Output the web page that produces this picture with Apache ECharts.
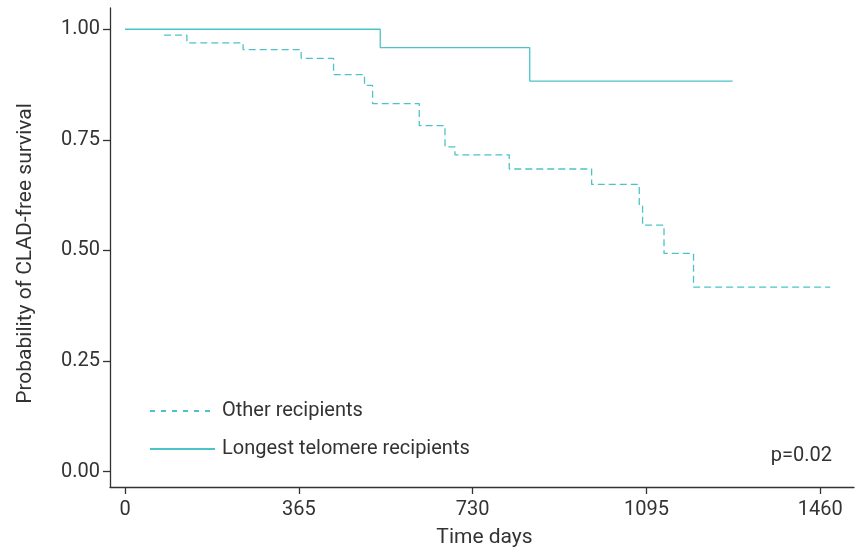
<!DOCTYPE html>
<html>
<head>
<meta charset="utf-8">
<script src="https://cdn.jsdelivr.net/npm/echarts@6/dist/echarts.min.js"></script>
<style>
html,body{margin:0;padding:0;background:#fff;}
#chart{width:860px;height:553px;}
</style>
</head>
<body>
<div id="chart"></div>
<script>
// Data
const seriesNames = ['Other recipients', 'Longest telomere recipients'];
const otherTimes = [82, 130, 248, 370, 438, 503, 520, 618, 672, 693, 807, 980, 1080, 1087, 1132, 1194, 1481];
const otherSurv  = [0.9865, 0.969, 0.954, 0.934, 0.8975, 0.873, 0.832, 0.782, 0.734, 0.716, 0.684, 0.649, 0.600, 0.557, 0.493, 0.417, 0.417];
const longTimes = [0, 536, 850, 1276];
const longSurv  = [1.0, 0.9585, 0.8826, 0.8826];
const xTicks = [0, 365, 730, 1095, 1460];
const yTicks = [0, 0.25, 0.5, 0.75, 1.0];
const pValueText = 'p=0.02';

const color = '#4cc3c8';
const textColor = '#333333';
const font = 'Roboto';

const toPairs = (xs, ys) => xs.map((x, i) => [x, ys[i]]);

const chart = echarts.init(document.getElementById('chart'), null, {renderer: 'canvas'});
chart.setOption({
  backgroundColor: '#ffffff',
  animation: false,
  grid: {left: 110, right: 6, top: 8, bottom: 65},
  legend: {
    show: true,
    orient: 'vertical',
    left: 144,
    top: 394,
    padding: 5,
    itemWidth: 65,
    itemHeight: 14,
    itemGap: 14,
    itemStyle: {opacity: 0},
    textStyle: {fontFamily: font, fontSize: 20, color: textColor, lineHeight: 24, padding: [0, 0, 0, 2]},
    data: [
      {name: seriesNames[0], lineStyle: {type: [5, 6]}},
      {name: seriesNames[1]}
    ]
  },
  xAxis: {
    type: 'value',
    min: -31.5,
    max: 1531,
    name: 'Time days',
    nameLocation: 'middle',
    nameGap: 40,
    nameTextStyle: {fontFamily: font, fontSize: 21, color: textColor, padding: [0, 0, 0, 5]},
    axisLine: {show: true, onZero: false, lineStyle: {color: '#333', width: 1.3}},
    axisTick: {show: true, length: 7, lineStyle: {color: '#333', width: 1.3}, customValues: xTicks},
    axisLabel: {fontFamily: font, fontSize: 20, color: textColor, margin: 13, customValues: xTicks,
      formatter: v => String(v)},
    splitLine: {show: false}
  },
  yAxis: {
    type: 'value',
    min: -0.035,
    max: 1.048,
    name: 'Probability of CLAD-free survival',
    nameLocation: 'middle',
    nameGap: 74,
    nameTextStyle: {fontFamily: font, fontSize: 21, color: textColor, padding: [0, 12, 0, 0]},
    axisLine: {show: true, onZero: false, lineStyle: {color: '#333', width: 1.3}},
    axisTick: {show: true, length: 7, lineStyle: {color: '#333', width: 1.3}, customValues: yTicks},
    axisLabel: {fontFamily: font, fontSize: 20, color: textColor, margin: 10, customValues: yTicks,
      formatter: v => v.toFixed(2)},
    splitLine: {show: false}
  },
  series: [
    {
      name: seriesNames[0],
      type: 'line',
      step: 'end',
      symbol: 'none',
      data: toPairs(otherTimes, otherSurv),
      lineStyle: {color: color, width: 1.3, type: [7, 4]},
      itemStyle: {color: color}
    },
    {
      name: seriesNames[1],
      type: 'line',
      step: 'end',
      symbol: 'none',
      data: toPairs(longTimes, longSurv),
      lineStyle: {color: color, width: 1.3, type: 'solid'},
      itemStyle: {color: color}
    }
  ],
  graphic: [
    {
      type: 'text',
      right: 28,
      top: 446,
      style: {text: pValueText, fontFamily: font, fontSize: 20, fill: textColor}
    }
  ]
});
</script>
</body>
</html>
